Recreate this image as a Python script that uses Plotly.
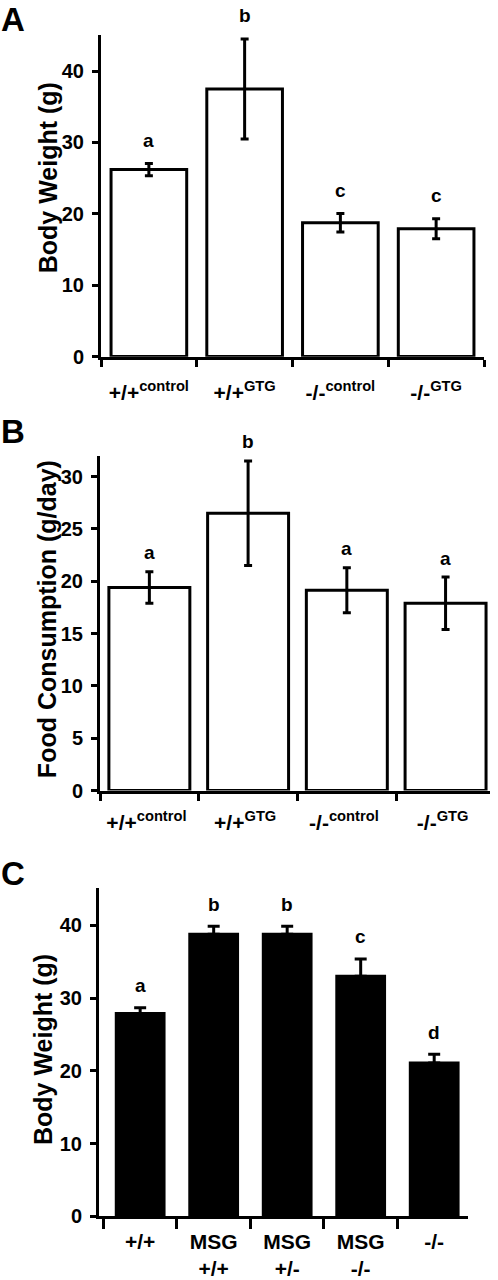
import plotly.graph_objects as go

# ---------------- data ----------------
a_labels = ["+/+<sup>control</sup>", "+/+<sup>GTG</sup>", "-/-<sup>control</sup>", "-/-<sup>GTG</sup>"]
a_values = [26.2, 37.5, 18.75, 17.9]
a_errors = [0.85, 7.0, 1.3, 1.4]
a_letters = ["a", "b", "c", "c"]

b_labels = [s + " " for s in a_labels]
b_values = [19.4, 26.5, 19.15, 17.9]
b_errors = [1.5, 5.0, 2.15, 2.5]
b_letters = ["a", "b", "a", "a"]

c_labels = ["+/+", "MSG<br>+/+", "MSG<br>+/-", "MSG<br>-/-", "-/-"]
c_values = [27.9, 38.8, 38.8, 33.0, 21.1]
c_errors = [0.8, 1.1, 1.1, 2.4, 1.2]
c_letters = ["a", "b", "b", "c", "d"]

a_yticks = [0, 10, 20, 30, 40]
b_yticks = [0, 5, 10, 15, 20, 25, 30]
c_yticks = [0, 10, 20, 30, 40]

FONT = "Liberation Sans, Arial, Helvetica, sans-serif"
W, H = 498, 1280


def py(px):
    return 1 - px / H


fig = go.Figure()

panels = [
    dict(lab=a_labels, val=a_values, err=a_errors, let=a_letters, fill="white", bw=0.79,
         cap=4, sym=True, ax="", xd=(101, 484), yd=(35, 360), xr=[-0.5, 3.5], yr=[0, 45.1],
         yt=a_yticks, ys=23, xtl=7, xso=15),
    dict(lab=b_labels, val=b_values, err=b_errors, let=b_letters, fill="white", bw=0.82,
         cap=4, sym=True, ax="2", xd=(100, 490), yd=(460, 798), xr=[-0.5, 3.45], yr=[0, 32],
         yt=b_yticks, ys=19, xtl=7, xso=11),
    dict(lab=c_labels, val=c_values, err=c_errors, let=c_letters, fill="black", bw=0.65,
         cap=6, sym=False, ax="3", xd=(99, 468), yd=(896.7, 1228), xr=[-0.56, 4.46], yr=[0, 45.1],
         yt=c_yticks, ys=22, xtl=10, xso=4),
]

for p in panels:
    ax = p["ax"]
    err = dict(type="data", array=p["err"], visible=True, color="black",
               thickness=3, width=p["cap"])
    if not p["sym"]:
        err["symmetric"] = False
        err["arrayminus"] = [0] * len(p["err"])
    fig.add_trace(go.Bar(
        x=p["lab"], y=p["val"], width=p["bw"],
        marker=dict(color=p["fill"], line=dict(color="black", width=3)),
        error_y=err,
        xaxis="x" + ax, yaxis="y" + ax,
    ))
    xa = dict(domain=[p["xd"][0] / W, p["xd"][1] / W], anchor="y" + ax, type="category",
              range=p["xr"], tickson="boundaries", ticks="outside", ticklen=p["xtl"], tickwidth=3,
              tickcolor="black", showline=True, linewidth=3, linecolor="black", tickangle=0,
              showgrid=False, zeroline=False, fixedrange=True, ticklabelstandoff=p["xso"],
              tickfont=dict(family=FONT, size=21, color="black", weight="bold"))
    ya = dict(domain=[py(p["yd"][1]), py(p["yd"][0])], anchor="x" + ax, range=p["yr"],
              tickvals=p["yt"], ticks="outside", ticklen=6, tickwidth=3, tickcolor="black",
              showline=True, linewidth=3, linecolor="black", showgrid=False, zeroline=False,
              fixedrange=True, ticklabelstandoff=4,
              tickfont=dict(family=FONT, size=20, color="black", weight="bold"))
    fig.update_layout(**{"xaxis" + ax: xa, "yaxis" + ax: ya})
    for lab, v, e, l in zip(p["lab"], p["val"], p["err"], p["let"]):
        fig.add_annotation(x=lab, y=v + e, xref="x" + ax, yref="y" + ax, text=l,
                           showarrow=False, yanchor="middle", yshift=p["ys"],
                           font=dict(family=FONT, size=19, color="black", weight="bold"))

# axis titles and panel letters
titles = [("Body Weight (g)", 48, 180), ("Food Consumption (g/day)", 47, 625),
          ("Body Weight (g)", 43, 1060)]
for t, x, y in titles:
    fig.add_annotation(x=x / W, y=py(y), xref="paper", yref="paper", text=t, textangle=-90,
                       showarrow=False, xanchor="center", yanchor="middle",
                       font=dict(family=FONT, size=25, color="black", weight="bold"))

for t, x, y in [("A", 0, 0), ("B", 0, 416), ("C", 0, 862)]:
    fig.add_annotation(x=x / W, y=py(y), xref="paper", yref="paper", text=t,
                       showarrow=False, xanchor="left", yanchor="top", borderpad=0,
                       font=dict(family=FONT, size=33, color="black", weight="bold"))

fig.update_layout(width=W, height=H, margin=dict(l=0, r=0, t=0, b=0),
                  plot_bgcolor="white", paper_bgcolor="white", showlegend=False,
                  bargap=0.2)

fig.write_html("out.html", config={"displayModeBar": False},
               post_script="document.body.style.margin='0';document.body.style.overflow='hidden';")
